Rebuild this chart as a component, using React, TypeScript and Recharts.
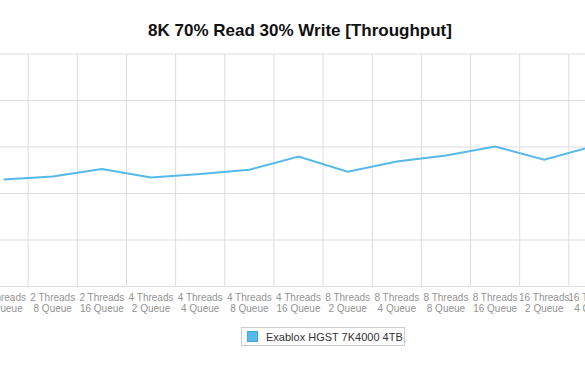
import { LineChart, Line, XAxis, YAxis, CartesianGrid } from 'recharts';

// categories (two-line tick labels)
const threads = [
  '2 Threads', '2 Threads', '2 Threads', '4 Threads', '4 Threads', '4 Threads', '4 Threads',
  '8 Threads', '8 Threads', '8 Threads', '8 Threads', '16 Threads', '16 Threads',
];
const queues = [
  '4 Queue', '8 Queue', '16 Queue', '2 Queue', '4 Queue', '8 Queue', '16 Queue',
  '2 Queue', '4 Queue', '8 Queue', '16 Queue', '2 Queue', '4 Queue',
];

// throughput values
const throughput = [115, 118.3, 126.3, 117.3, 120.9, 125.5, 139.8, 123.4, 134.5, 140.9, 150.6, 136.3, 150.9];

const yTicks = [0, 50, 100, 150, 200, 250];

const seriesName = 'Exablox HGST 7K4000 4TB';
const lineColor = '#55b9ea';

const chartData = threads.map((t, i) => ({
  key: `${t} ${queues[i]}`,
  threads: t,
  queue: queues[i],
  value: throughput[i],
}));

const FONT = '"Liberation Sans", Arial, Helvetica, sans-serif';

function CategoryTick({ x, y, index }: any) {
  return (
    <text x={x} y={y} textAnchor="middle" fill="#939393" fontSize={10} fontFamily={FONT}>
      <tspan x={x} dy="0.65em">{threads[index]}</tspan>
      <tspan x={x} dy={11}>{queues[index]}</tspan>
    </text>
  );
}

export default function App() {
  const n = chartData.length;
  const chartWidth = 639;

  return (
    <div
      style={{
        position: 'fixed',
        left: 0,
        top: 0,
        width: 585,
        height: 375,
        overflow: 'hidden',
        background: '#fff',
        fontFamily: FONT,
      }}
    >
      {/* Title */}
      <div
        style={{
          position: 'absolute',
          left: 0,
          top: 22,
          width: 600,
          textAlign: 'center',
          fontSize: 17,
          lineHeight: 1,
          fontWeight: 'bold',
          color: '#111',
        }}
      >
        8K 70% Read 30% Write [Throughput]
      </div>

      {/* Chart (plot area extends past both edges of the frame) */}
      <div style={{ position: 'absolute', left: -21, top: 0 }}>
        <LineChart
          width={chartWidth}
          height={320}
          data={chartData}
          margin={{ top: 54, right: 0, bottom: 0, left: 0 }}
        >
          <CartesianGrid
            stroke="#dddddd"
            verticalCoordinatesGenerator={({ offset }: any) =>
              Array.from({ length: n - 1 }, (_, i) => offset.left + ((i + 1) * offset.width) / n)
            }
          />
          <XAxis
            dataKey="key"
            interval={0}
            axisLine={false}
            tickLine={false}
            height={33.5}
            padding={{ left: chartWidth / n / 2, right: chartWidth / n / 2 }}
            tick={<CategoryTick />}
          />
          <YAxis hide domain={[0, 250]} ticks={yTicks} />
          <Line
            type="linear"
            dataKey="value"
            name={seriesName}
            stroke={lineColor}
            strokeWidth={2}
            dot={false}
            isAnimationActive={false}
          />
        </LineChart>
      </div>

      {/* Legend */}
      <div
        style={{
          position: 'absolute',
          left: 241,
          top: 327,
          width: 164,
          height: 19,
          boxSizing: 'border-box',
          border: '1px solid #cccccc',
          display: 'flex',
          alignItems: 'center',
          paddingLeft: 5,
        }}
      >
        <div
          style={{
            width: 11,
            height: 11,
            background: lineColor,
            border: '1px solid #3fa6d8',
            boxSizing: 'border-box',
            marginRight: 8,
          }}
        />
        <span style={{ fontSize: 11, color: '#333', whiteSpace: 'nowrap' }}>{seriesName}</span>
      </div>
    </div>
  );
}
